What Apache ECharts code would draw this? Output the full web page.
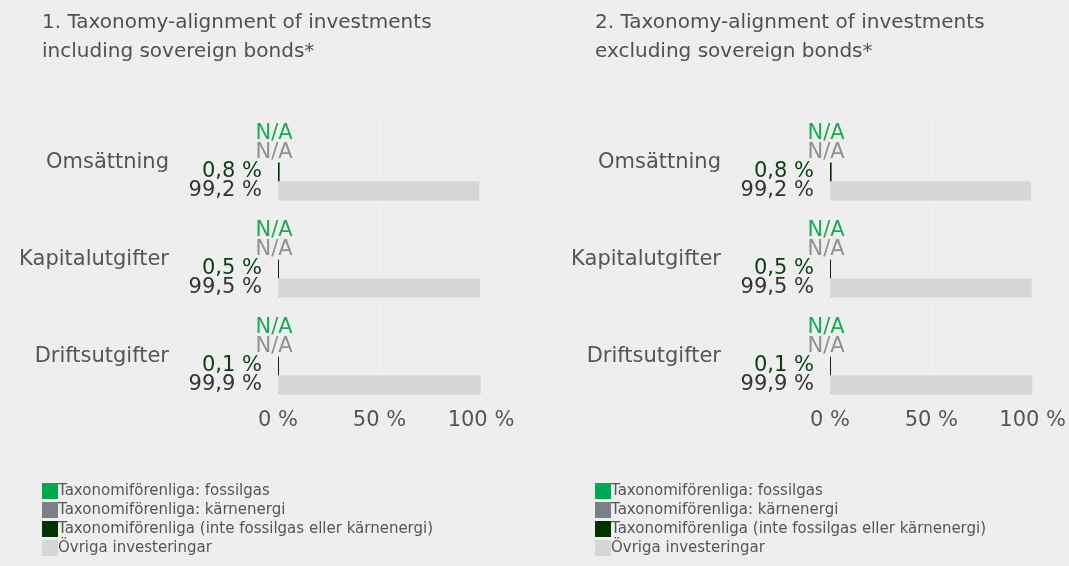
<!DOCTYPE html>
<html>
<head>
<meta charset="utf-8">
<script src="https://cdn.jsdelivr.net/npm/echarts@6/dist/echarts.min.js"></script>
<style>
  html, body { margin: 0; padding: 0; background: #edeeed; }
  #chart { width: 1069px; height: 566px; }
</style>
</head>
<body>
<div id="chart"></div>
<script>
// kategorier och data
const categories = ['Omsättning', 'Kapitalutgifter', 'Driftsutgifter']
const seriesNames = [
  'Taxonomiförenliga: fossilgas',
  'Taxonomiförenliga: kärnenergi',
  'Taxonomiförenliga (inte fossilgas eller kärnenergi)',
  'Övriga investeringar'
]
const titles = [
  '1. Taxonomy-alignment of investments\nincluding sovereign bonds*',
  '2. Taxonomy-alignment of investments\nexcluding sovereign bonds*'
]
// N/A-serier (inga värden)
const fossilIncl = [0, 0, 0]
const nuclearIncl = [0, 0, 0]
const alignedIncl = [0.8, 0.5, 0.1]
const otherIncl = [99.2, 99.5, 99.9]
const fossilExcl = [0, 0, 0]
const nuclearExcl = [0, 0, 0]
const alignedExcl = [0.8, 0.5, 0.1]
const otherExcl = [99.2, 99.5, 99.9]
const xTicks = [0, 50, 100]

const FONT = 'DejaVu Sans'
const colors = ['#00a94f', '#7c7f84', '#003300', '#d6d6d6']
const labelColors = ['#1aab55', '#8d9095', '#0b3d10', '#333333']

const chart = echarts.init(document.getElementById('chart'))

const fmtPct = (v) => String(v).replace('.', ',') + ' %'

// bygger de fyra serierna för en panel
const buildSeries = (idx, dataArr) => {
  return dataArr.map((d, i) => {
    const isNA = i < 2
    return {
      name: seriesNames[i],
      type: 'bar',
      xAxisIndex: idx,
      yAxisIndex: idx,
      data: d,
      barWidth: 19,
      barGap: '0%',
      barMinHeight: i === 2 ? 1 : 0, // så att 0,1 % syns
      itemStyle: { color: colors[i] },
      emphasis: { disabled: true },
      label: {
        show: true,
        position: isNA ? 'inside' : 'left',
        distance: 16,
        offset: isNA ? [-4, 0] : [0, 0],
        fontFamily: FONT,
        fontSize: 21,
        color: labelColors[i],
        formatter: isNA ? 'N/A' : (p) => fmtPct(p.value)
      }
    }
  })
}

const panelLeft = [278, 830]

const option = {
  backgroundColor: '#edeeed',
  animation: false,
  title: titles.map((t, i) => ({
    text: t,
    left: i === 0 ? 37 : 590,
    top: 3,
    textStyle: { fontFamily: FONT, fontSize: 20, fontWeight: 'normal', color: '#505050', lineHeight: 29 }
  })),
  legend: [0, 1].map((i) => ({
    data: seriesNames,
    orient: 'vertical',
    left: i === 0 ? 37 : 590,
    top: 478,
    itemWidth: 16,
    itemHeight: 16,
    itemGap: 3,
    icon: 'rect',
    selectedMode: false,
    textStyle: { fontFamily: FONT, fontSize: 15, color: '#555', padding: [0, 0, 0, -5] }
  })),
  grid: panelLeft.map((l) => ({ left: l, width: 203, top: 114, height: 291 })),
  xAxis: [0, 1].map((i) => ({
    type: 'value',
    gridIndex: i,
    min: 0,
    max: 100,
    interval: 50,
    axisLine: { show: false },
    axisTick: { show: false },
    splitLine: { show: true, lineStyle: { color: '#f3f3f3', width: 1 } },
    axisLabel: {
      fontFamily: FONT,
      fontSize: 21,
      color: '#555',
      margin: 5,
      formatter: (v) => (xTicks.includes(v) ? v + ' %' : '')
    }
  })),
  yAxis: [0, 1].map((i) => ({
    type: 'category',
    gridIndex: i,
    data: categories,
    inverse: true,
    axisLine: { show: false },
    axisTick: { show: false },
    axisLabel: {
      fontFamily: FONT,
      fontSize: 21,
      color: '#555',
      margin: 109
    }
  })),
  series: [
    ...buildSeries(0, [fossilIncl, nuclearIncl, alignedIncl, otherIncl]),
    ...buildSeries(1, [fossilExcl, nuclearExcl, alignedExcl, otherExcl])
  ]
}

chart.setOption(option)
</script>
</body>
</html>
